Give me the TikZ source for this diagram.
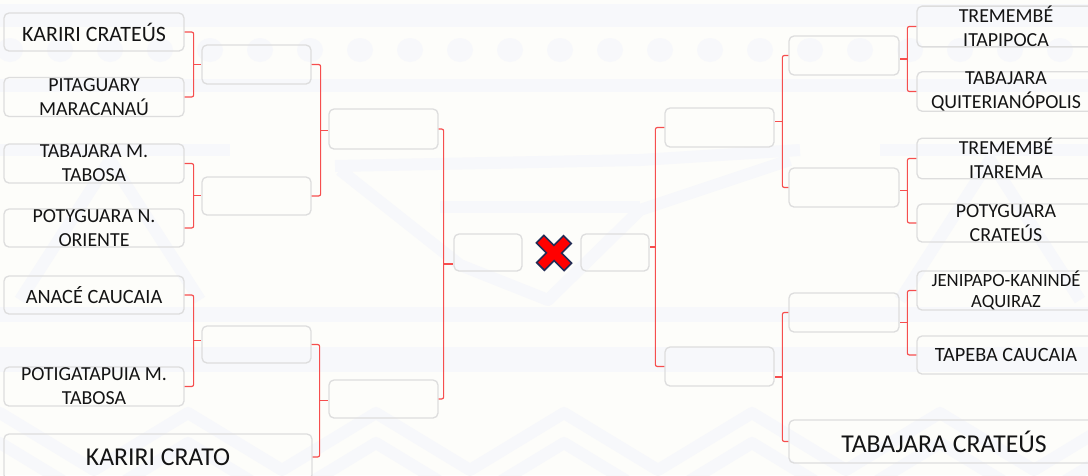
\documentclass[tikz,border=0pt]{standalone}
\usepackage{fontspec}
\setmainfont{Carlito}
\usetikzlibrary{calc}
\definecolor{bgc}{RGB}{253,253,250}
\definecolor{pat}{RGB}{247,248,251}
\definecolor{boxline}{RGB}{221,221,221}
\definecolor{brc}{RGB}{246,78,78}
\definecolor{txt}{RGB}{20,20,20}
\definecolor{xnavy}{RGB}{35,45,85}
\definecolor{xred}{RGB}{255,0,0}
\newcommand\tfbig{\fontsize{25.7}{30}\selectfont}
\newcommand\tfmed{\fontsize{21.9}{24}\selectfont}
\newcommand\tfone{\fontsize{20.3}{24}\selectfont}
\newcommand\tftwo{\fontsize{19.9}{24}\selectfont}
\newcommand\tfsmall{\fontsize{18.7}{21}\selectfont}
\tikzset{
  team/.style={draw=boxline, line width=1.3pt, rounded corners=5pt, inner sep=0pt, align=center, text=txt},
  slot/.style={draw=boxline, line width=1.3pt, rounded corners=5pt, inner sep=0pt},
  br/.style={draw=brc, line width=1.15pt, rounded corners=2pt},
  patline/.style={draw=pat, line width=12pt, line join=round},
}
% bracket: top node, bottom node, their anchor, target node, target anchor, offset
\newcommand\brkt[6]{%
  \draw[br] (#1.#3) -- ++(#6,0) |- (#2.#3);
  \draw[br] ($(#1.#3)!.5!(#2.#3)+(#6,0)$) coordinate (m) -- (m -| #4.#5);
}
\begin{document}
\begin{tikzpicture}[x=1pt,y=-1pt]
\fill[bgc] (0,0) rectangle (1088,475);
\useasboundingbox (0,0) rectangle (1088,475);
% faint background pattern
\fill[pat] (0,4) rectangle (1088,27);
\foreach \k in {0,...,21} \fill[pat] (10+50*\k,50) ellipse (13 and 12);
\fill[pat] (0,79) rectangle (1088,92);
\fill[pat] (0,307) rectangle (1088,322);
\fill[pat] (0,347) rectangle (1088,372);
\draw[patline] (0,150) -- (230,150);
\draw[patline] (335,166) -- (640,160) -- (800,150);
\draw[patline] (880,150) -- (1088,150);
\draw[patline] (340,170) -- (460,265) -- (548,300) -- (640,210) -- (790,160);
\draw[patline] (440,207) -- (640,207);
\draw[patline] (20,300) -- (110,160) -- (200,300);
\draw[patline] (900,300) -- (990,160) -- (1080,300);
\draw[patline] (-94,470) \foreach \k in {0,...,6} {-- (0+188*\k,413) -- (94+188*\k,470)};
\draw[patline] (-94,500) \foreach \k in {0,...,6} {-- (0+188*\k,443) -- (94+188*\k,500)};

% left teams
\node[team, font=\tfmed, minimum width=180, minimum height=38] (L1) at (94,32) {KARIRI CRATEÚS};
\node[team, font=\tftwo, minimum width=180, minimum height=39] (L2) at (94,97) {PITAGUARY\\MARACANAÚ};
\node[team, font=\tftwo, minimum width=180, minimum height=39] (L3) at (94,163.5) {TABAJARA M.\\TABOSA};
\node[team, font=\tftwo, minimum width=180, minimum height=38] (L4) at (94,228) {POTYGUARA N.\\ORIENTE};
\node[team, font=\tfone, minimum width=180, minimum height=38] (L5) at (94,295) {ANACÉ CAUCAIA};
\node[team, font=\tftwo, minimum width=180, minimum height=39] (L6) at (94,386.5) {POTIGATAPUIA M.\\TABOSA};
\node[team, font=\tfbig, minimum width=308, minimum height=46] (L7) at (158,457) {KARIRI CRATO};
% left round 2
\node[slot, minimum width=109, minimum height=39] (A1) at (256.5,64.5) {};
\node[slot, minimum width=109, minimum height=38] (A2) at (256.5,196) {};
\node[slot, minimum width=109, minimum height=37] (A3) at (256.5,344.5) {};
% left round 3
\node[slot, minimum width=109, minimum height=40] (B1) at (383.5,129) {};
\node[slot, minimum width=109, minimum height=38] (B2) at (383.5,399) {};
% semis
\node[slot, minimum width=68, minimum height=37] (S1) at (488,252.5) {};
\node[slot, minimum width=68, minimum height=37] (S2) at (615,252.5) {};
% right round 3
\node[slot, minimum width=109, minimum height=39] (C1) at (719.5,127.5) {};
\node[slot, minimum width=109, minimum height=39] (C2) at (719.5,366.5) {};
% right round 2
\node[slot, minimum width=110, minimum height=39] (D1) at (844,55.5) {};
\node[slot, minimum width=110, minimum height=39] (D2) at (844,187.5) {};
\node[slot, minimum width=110, minimum height=39] (D3) at (844,312.5) {};
% right teams
\node[team, font=\tftwo, minimum width=178, minimum height=37] (T1) at (1006,26.5) {TREMEMBÉ\\ITAPIPOCA};
\node[team, font=\tftwo, minimum width=178, minimum height=39] (T2) at (1006,91.5) {TABAJARA\\QUITERIANÓPOLIS};
\node[team, font=\tftwo, minimum width=178, minimum height=39] (T3) at (1006,158.5) {TREMEMBÉ\\ITAREMA};
\node[team, font=\tftwo, minimum width=178, minimum height=38] (T4) at (1006,223) {POTYGUARA\\CRATEÚS};
\node[team, font=\tfsmall, minimum width=178, minimum height=37] (T5) at (1006,290.5) {JENIPAPO-KANINDÉ\\AQUIRAZ};
\node[team, font=\tfone, minimum width=178, minimum height=38] (T6) at (1006,355) {TAPEBA CAUCAIA};
\node[team, font=\tfbig, minimum width=310, minimum height=43] (T7) at (944,441.5) {TABAJARA CRATEÚS};

% brackets left
\brkt{L1}{L2}{east}{A1}{west}{9}
\brkt{L3}{L4}{east}{A2}{west}{9}
\brkt{L5}{L6}{east}{A3}{west}{9}
\brkt{A1}{A2}{east}{B1}{west}{9}
\brkt{A3}{L7}{east}{B2}{west}{8}
\brkt{B1}{B2}{east}{S1}{west}{5}
% brackets right
\brkt{T1}{T2}{west}{D1}{east}{-9}
\brkt{T3}{T4}{west}{D2}{east}{-9}
\brkt{T5}{T6}{west}{D3}{east}{-9}
\brkt{D1}{D2}{west}{C1}{east}{-6}
\brkt{D3}{T7}{west}{C2}{east}{-6}
\brkt{C1}{C2}{west}{S2}{east}{-9}

% the X between the finalists
\node[inner sep=0pt, minimum size=34] (vs) at (554,253) {};
\begin{scope}[shift={(vs.center)}, rotate=45, yscale=1.03]
  \draw[fill=xred, draw=xnavy, line width=1.6pt, line join=miter]
    (5.3,19) -- (5.3,5.3) -- (19,5.3) -- (19,-5.3) -- (5.3,-5.3) -- (5.3,-19)
    -- (-5.3,-19) -- (-5.3,-5.3) -- (-19,-5.3) -- (-19,5.3) -- (-5.3,5.3) -- (-5.3,19) -- cycle;
\end{scope}
\end{tikzpicture}
\end{document}
